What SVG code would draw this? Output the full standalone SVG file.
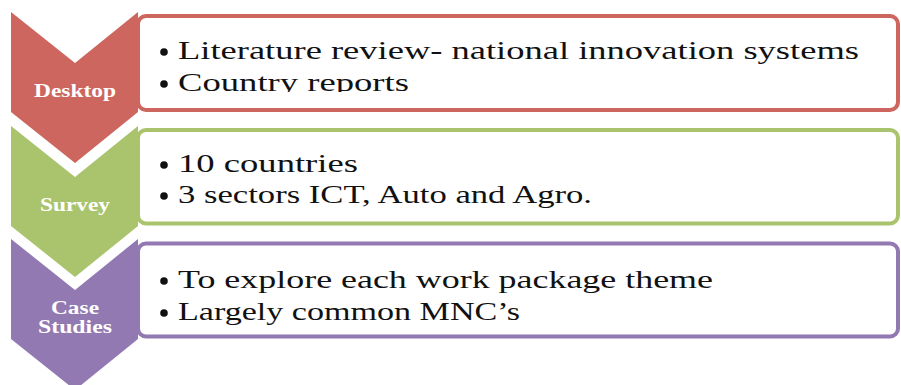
<svg xmlns="http://www.w3.org/2000/svg" width="901" height="385" viewBox="0 0 901 385">
  <style>
    .box { fill: #ffffff; stroke-width: 4; }
    .item { font-family: "Liberation Serif", "DejaVu Serif", serif; font-size: 26px; fill: #111111; }
    .label { font-family: "Liberation Serif", "DejaVu Serif", serif; font-size: 18px; font-weight: bold; fill: #ffffff; text-anchor: middle; }
    .dot { fill: #111111; }
    .red { fill: #CD665F; }
    .green { fill: #AAC46E; }
    .purple { fill: #9279B2; }
  </style>
  <defs>
    <!-- chevron pointing down, notch on top -->
    <path id="chev" d="M11,0 L75,51 L138,0 L138,100 L75,151 L11,100 Z"/>
    <clipPath id="clip1"><rect x="136" y="14" width="770" height="78"/></clipPath>
  </defs>

  <!-- Desktop -->
  <g id="desktop">
    <rect class="box" x="138" y="16" width="760" height="94" rx="8" stroke="#CD665F"/>
    <use href="#chev" class="red" y="12"/>
    <text class="label" x="75" y="97" textLength="82" lengthAdjust="spacingAndGlyphs">Desktop</text>
    <circle class="dot" cx="164" cy="52" r="3.8"/>
    <text class="item" x="178" y="59" textLength="681" lengthAdjust="spacingAndGlyphs">Literature review- national innovation systems</text>
    <circle class="dot" cx="164" cy="84" r="3.8"/>
    <g clip-path="url(#clip1)">
      <text class="item" x="178" y="91" textLength="231" lengthAdjust="spacingAndGlyphs">Country reports</text>
    </g>
  </g>

  <!-- Survey -->
  <g id="survey">
    <rect class="box" x="138" y="130" width="760" height="93.5" rx="8" stroke="#AAC46E"/>
    <use href="#chev" class="green" y="126"/>
    <text class="label" x="75" y="211" textLength="70" lengthAdjust="spacingAndGlyphs">Survey</text>
    <circle class="dot" cx="164" cy="165" r="3.8"/>
    <text class="item" x="178" y="172" textLength="180" lengthAdjust="spacingAndGlyphs">10 countries</text>
    <circle class="dot" cx="164" cy="196" r="3.8"/>
    <text class="item" x="178" y="203" textLength="414" lengthAdjust="spacingAndGlyphs">3 sectors ICT, Auto and Agro.</text>
  </g>

  <!-- Case Studies -->
  <g id="case-studies">
    <rect class="box" x="138" y="243.5" width="760" height="93" rx="8" stroke="#9279B2"/>
    <use href="#chev" class="purple" y="239"/>
    <text class="label" x="75" y="314" textLength="48" lengthAdjust="spacingAndGlyphs">Case</text>
    <text class="label" x="75" y="333" textLength="74" lengthAdjust="spacingAndGlyphs">Studies</text>
    <circle class="dot" cx="164" cy="281" r="3.8"/>
    <text class="item" x="178" y="288" textLength="535" lengthAdjust="spacingAndGlyphs">To explore each work package theme</text>
    <circle class="dot" cx="164" cy="313" r="3.8"/>
    <text class="item" x="178" y="320" textLength="342" lengthAdjust="spacingAndGlyphs">Largely common MNC’s</text>
  </g>

  <g id="connectors"/>
</svg>
